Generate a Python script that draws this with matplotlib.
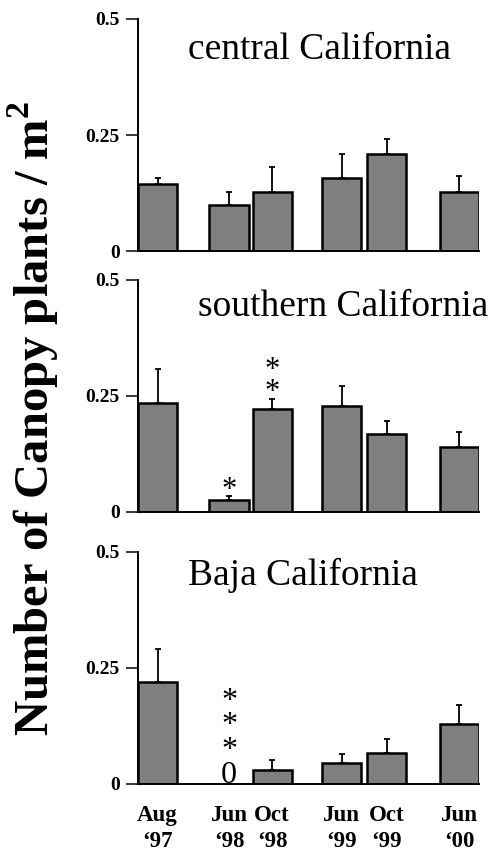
import matplotlib
matplotlib.use("Agg")
import matplotlib.pyplot as plt
import numpy as np

# ---- data ----
dates = ["Aug\n\u201897", "Jun\n\u201898", "Oct\n\u201898", "Jun\n\u201899", "Oct\n\u201899", "Jun\n\u201800"]
regions = ["central California", "southern California", "Baja California"]
central_mean = [0.144, 0.099, 0.127, 0.157, 0.209, 0.127]
central_err = [0.013, 0.028, 0.054, 0.052, 0.032, 0.034]
southern_mean = [0.235, 0.026, 0.222, 0.228, 0.168, 0.140]
southern_err = [0.073, 0.008, 0.022, 0.044, 0.028, 0.032]
baja_mean = [0.220, 0.0, 0.030, 0.045, 0.067, 0.129]
baja_err = [0.071, 0.0, 0.022, 0.020, 0.030, 0.041]
yticks = [0, 0.25, 0.5]
ytick_labels = ["0", "0.25", "0.5"]
ylabel = "Number of Canopy plants / m$^\\mathbf{2}$"
# significance marks per (panel, bar)
sig_marks = {(1, 1): "*", (1, 2): "*\n*", (2, 1): "*\n*\n*\n0"}

means = [central_mean, southern_mean, baja_mean]
errs = [central_err, southern_err, baja_err]

# ---- layout ----
W, H = 495, 851
fig = plt.figure(figsize=(W / 100, H / 100), dpi=100)
plt.rcParams["font.family"] = "Liberation Serif"
plt.rcParams["mathtext.fontset"] = "custom"
plt.rcParams["mathtext.bf"] = "Liberation Serif:bold"
plt.rcParams["mathtext.rm"] = "Liberation Serif"

pos = np.array([0, 1.64, 2.63, 4.23, 5.26, 6.93])
bw = 0.9
panel_tops = [19, 280, 552]
panel_h = 232
left_px, right_px = 138, 479
title_xy = [(320, 50), (343, 307), (303, 575)]
# (offset in points, fontsize, linespacing) for each mark stack
mark_style = {(1, 1): (-6, 22, 0.7), (1, 2): (-6, 22, 0.68), (2, 1): (-4, 23, 0.8)}

axes = []
for i in range(3):
    ax = fig.add_axes([left_px / W, 1 - (panel_tops[i] + panel_h) / H,
                       (right_px - left_px) / W, panel_h / H])
    axes.append(ax)
    m = np.array(means[i])
    e = np.array(errs[i])
    ax.bar(pos, m, width=bw, color="#7f7f7f", edgecolor="black", linewidth=1.8, zorder=2)
    nz = m > 0
    ax.errorbar(pos[nz], m[nz], yerr=[np.zeros(nz.sum()), e[nz]], fmt="none",
                ecolor="black", elinewidth=1.3, capsize=2.5, capthick=1.3, zorder=1)
    ax.set_xlim(pos[0] - bw / 2, pos[-1] + bw / 2)
    ax.set_ylim(0, 0.5)
    for s in ["top", "right"]:
        ax.spines[s].set_visible(False)
    for s in ["left", "bottom"]:
        ax.spines[s].set_linewidth(1.4)
    ax.set_yticks(yticks)
    ax.set_yticklabels(ytick_labels, fontsize=14, fontweight="bold")
    ax.tick_params(axis="y", length=9, width=1.1, pad=4)
    if i == 2:
        ax.set_xticks(pos)
        ax.set_xticklabels(dates, fontsize=16.5, fontweight="bold", linespacing=1.3)
        ax.tick_params(axis="x", length=0, pad=15)
    else:
        ax.set_xticks([])
    tx, ty = title_xy[i]
    fig.text(tx / W, 1 - ty / H, regions[i], fontsize=27, ha="center", va="center")

for (i, k), txt in sig_marks.items():
    ax = axes[i]
    base = means[i][k] + errs[i][k]
    off, fs, ls = mark_style[(i, k)]
    ax.annotate(txt, xy=(pos[k], base), xytext=(0, off), textcoords="offset points",
                ha="center", va="bottom", fontsize=fs, linespacing=ls)

fig.text(33 / W, 1 - 418 / H, ylabel, rotation=90, fontsize=35, fontweight="bold",
         ha="center", va="center")

fig.savefig("out.png", dpi=100)
